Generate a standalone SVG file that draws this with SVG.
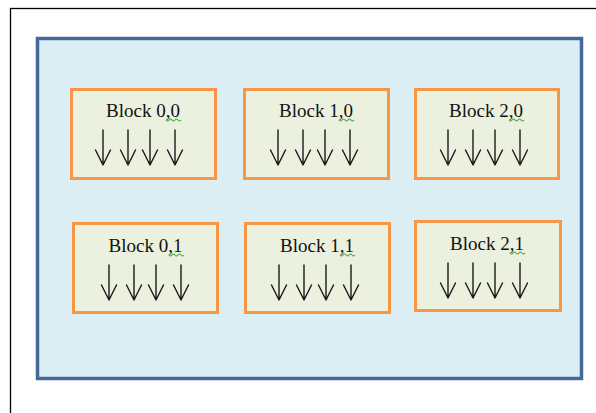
<svg xmlns="http://www.w3.org/2000/svg" width="596" height="413" viewBox="0 0 596 413">
<style>
.frame{fill:#ffffff;stroke:#000000;stroke-width:1.3}
.grid{fill:#dbeef3;stroke:#46699a;stroke-width:3.5}
.blk{fill:#ebf1de;stroke:#f79646;stroke-width:3}
.lbl{font-family:"Liberation Serif","Times New Roman",serif;font-size:19px;fill:#111111;text-anchor:middle}
.arr{fill:none;stroke:#1a1a1a;stroke-width:1.4;stroke-linecap:round;stroke-linejoin:round}
.sq{fill:none;stroke:#3fae3f;stroke-width:1.1}
</style>
<defs>
<g id="arrows">
<path class="arr" d="M0,0 V35 M-7.5,20 L0,35 L7.5,20"/>
<path class="arr" d="M25,0 V35 M17.5,20 L25,35 L32.5,20"/>
<path class="arr" d="M47,0 V35 M39.5,20 L47,35 L54.5,20"/>
<path class="arr" d="M72,0 V35 M64.5,20 L72,35 L79.5,20"/>
</g>
<path id="squig" class="sq" d="M0,0 q1.5,2 3,0 t3,0 t3,0 t3,0 t3,0"/>
</defs>
<rect class="frame" x="10.5" y="8.5" width="600" height="420"/>
<rect class="grid" x="37.5" y="38.5" width="544" height="340"/>
<g id="block00">
<rect class="blk" x="71.5" y="89.5" width="144" height="89"/>
<text class="lbl" x="143" y="117">Block 0,0</text>
<use href="#squig" x="166" y="120"/>
<use href="#arrows" x="103" y="130"/>
</g>
<g id="block10">
<rect class="blk" x="244.5" y="89.5" width="144" height="89"/>
<text class="lbl" x="316" y="117">Block 1,0</text>
<use href="#squig" x="339" y="120"/>
<use href="#arrows" x="278" y="130"/>
</g>
<g id="block20">
<rect class="blk" x="415.5" y="89.5" width="143" height="89"/>
<text class="lbl" x="486" y="117">Block 2,0</text>
<use href="#squig" x="509" y="120"/>
<use href="#arrows" x="448" y="130"/>
</g>
<g id="block01">
<rect class="blk" x="73.5" y="223.5" width="144" height="89"/>
<text class="lbl" x="145.5" y="252">Block 0,1</text>
<use href="#squig" x="169" y="255"/>
<use href="#arrows" x="109" y="265"/>
</g>
<g id="block11">
<rect class="blk" x="245.5" y="223.5" width="144" height="89"/>
<text class="lbl" x="317" y="252">Block 1,1</text>
<use href="#squig" x="340" y="255"/>
<use href="#arrows" x="279" y="265"/>
</g>
<g id="block21">
<rect class="blk" x="415.5" y="221.5" width="145" height="89"/>
<text class="lbl" x="487" y="250">Block 2,1</text>
<use href="#squig" x="510" y="253"/>
<use href="#arrows" x="448" y="263"/>
</g>
<g id="connectors"></g>
</svg>
